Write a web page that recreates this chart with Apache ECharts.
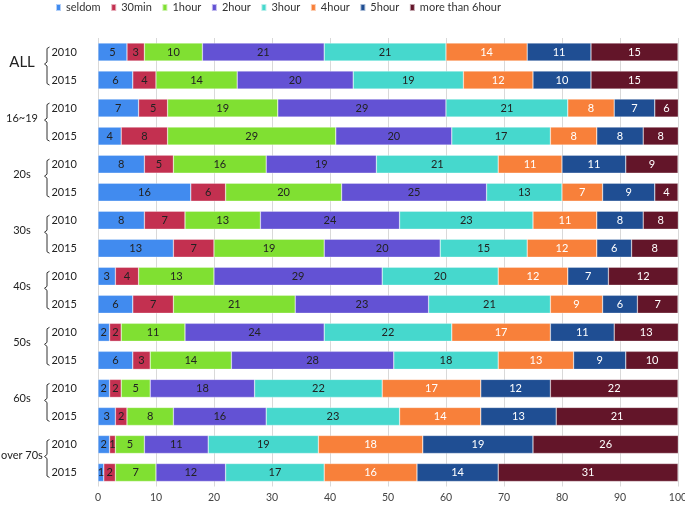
<!DOCTYPE html>
<html>
<head>
<meta charset="utf-8">
<script src="https://cdn.jsdelivr.net/npm/echarts@6/dist/echarts.min.js"></script>
<style>
html,body{margin:0;padding:0;background:#fff;}
#c{width:685px;height:505px;}
</style>
</head>
<body>
<div id="c"></div>
<script>
// ---- data ----
const groups = ['ALL', '16~19', '20s', '30s', '40s', '50s', '60s', 'over 70s'];
const years = ['2010', '2015'];
const seriesNames = ['seldom', '30min', '1hour', '2hour', '3hour', '4hour', '5hour', 'more than 6hour'];
const seldom  = [5, 6, 7, 4, 8, 16, 8, 13, 3, 6, 2, 6, 2, 3, 2, 1];
const min30   = [3, 4, 5, 8, 5, 6, 7, 7, 4, 7, 2, 3, 2, 2, 1, 2];
const hour1   = [10, 14, 19, 29, 16, 20, 13, 19, 13, 21, 11, 14, 5, 8, 5, 7];
const hour2   = [21, 20, 29, 20, 19, 25, 24, 20, 29, 23, 24, 28, 18, 16, 11, 12];
const hour3   = [21, 19, 21, 17, 21, 13, 23, 15, 20, 21, 22, 18, 22, 23, 19, 17];
const hour4   = [14, 12, 8, 8, 11, 7, 11, 12, 12, 9, 17, 13, 17, 14, 18, 16];
const hour5   = [11, 10, 7, 8, 11, 9, 8, 6, 7, 6, 11, 9, 12, 13, 19, 14];
const hour6p  = [15, 15, 6, 8, 9, 4, 8, 8, 12, 7, 13, 10, 22, 21, 26, 31];
const xTicks  = [0, 10, 20, 30, 40, 50, 60, 70, 80, 90, 100];

const colors = ['#418BEF', '#C33050', '#80E032', '#6352D4', '#46D8CD', '#F8803A', '#1F4E93', '#631529'];
const labelColors = ['#222', '#222', '#222', '#222', '#222', '#fff', '#fff', '#fff'];
const allValues = [seldom, min30, hour1, hour2, hour3, hour4, hour5, hour6p];

// category keys (unique) for each row
const rows = [];
groups.forEach(g => years.forEach(y => rows.push(g + '|' + y)));

const FONT = 'Lato, "Open Sans", sans-serif';
const chart = echarts.init(document.getElementById('c'), null, {renderer: 'canvas'});

const series = seriesNames.map((name, i) => ({
  name: name,
  type: 'bar',
  stack: 'total',
  barWidth: 18,
  yAxisIndex: 0,
  itemStyle: {color: colors[i], borderColor: 'rgba(255,255,255,0.6)', borderWidth: 0.5},
  label: {
    show: true,
    position: 'inside',
    color: labelColors[i],
    fontSize: 11,
    fontFamily: FONT
  },
  emphasis: {disabled: true},
  data: allValues[i]
}));

chart.setOption({
  animation: false,
  textStyle: {fontFamily: FONT},
  color: colors,
  legend: {
    data: seriesNames,
    top: 2,
    left: 55,
    padding: 0,
    itemWidth: 5,
    itemHeight: 7,
    itemGap: 9.6,
    icon: 'rect',
    textStyle: {fontSize: 11, color: '#333', width: 40, overflow: 'none', fontFamily: FONT}
  },
  grid: {left: 98, right: 7, top: 38, bottom: 18.5, containLabel: false, outerBoundsMode: 'none'},
  xAxis: {
    type: 'value',
    min: 0,
    max: 100,
    interval: 10,
    axisLine: {show: false},
    axisTick: {show: false},
    splitLine: {show: true, lineStyle: {color: '#D9D9D9', width: 1}},
    axisLabel: {
      fontSize: 10.5, color: '#444', margin: 6, fontFamily: FONT,
      hideOverlap: false,
      formatter: v => xTicks.indexOf(v) >= 0 ? String(v) : ''
    }
  },
  yAxis: [
    {
      type: 'category',
      inverse: true,
      data: rows,
      axisLine: {show: false},
      axisTick: {show: false},
      axisLabel: {
        fontSize: 11, color: '#222', margin: 21, fontFamily: FONT,
        padding: [0, 0, 4, 0],
        formatter: v => v.split('|')[1]
      }
    },
    {
      type: 'category',
      inverse: true,
      position: 'left',
      offset: 76,
      data: groups,
      axisLine: {show: false},
      axisTick: {show: false},
      axisLabel: {
        align: 'center',
        margin: 0,
        padding: [0, 0, 7, 0],
        fontSize: 11, color: '#222', fontFamily: FONT,
        formatter: v => v === 'ALL' ? '{big|' + v + '}' : v,
        rich: {big: {fontSize: 15, color: '#222', fontFamily: FONT}}
      }
    }
  ],
  series: series
});

// braces next to the year labels, positioned from the axis scale
const braceX = 47;
const graphics = [];
groups.forEach(g => {
  const yTop = chart.convertToPixel({yAxisIndex: 0}, g + '|' + years[0]);
  const yBot = chart.convertToPixel({yAxisIndex: 0}, g + '|' + years[1]);
  const top = yTop - 5, bot = yBot + 5, mid = (top + bot) / 2 - 2;
  graphics.push({
    type: 'polyline',
    silent: true,
    shape: {points: [
      [braceX + 2.5, top], [braceX, top + 1.5], [braceX, mid - 2], [braceX - 2.5, mid],
      [braceX, mid + 2], [braceX, bot - 1.5], [braceX + 2.5, bot]
    ]},
    style: {stroke: '#333', lineWidth: 1, fill: null}
  });
});
chart.setOption({graphic: graphics});
</script>
</body>
</html>
